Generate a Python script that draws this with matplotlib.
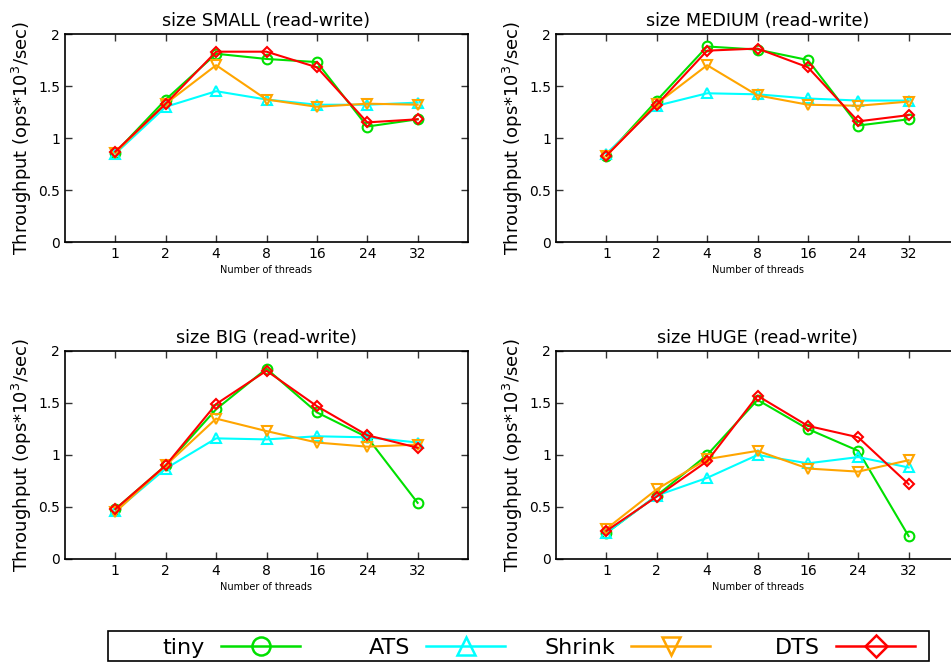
import matplotlib
matplotlib.use("Agg")
import matplotlib.pyplot as plt
from matplotlib.lines import Line2D
from matplotlib.patches import Rectangle

threads = ["1", "2", "4", "8", "16", "24", "32"]
series = ["tiny", "ATS", "Shrink", "DTS"]
colors = {"tiny": "#00e000", "ATS": "#00ffff", "Shrink": "#ffa500", "DTS": "#ff0000"}
markers = {"tiny": "o", "ATS": "^", "Shrink": "v", "DTS": "D"}

small = {
    "tiny":   [0.86, 1.37, 1.81, 1.76, 1.73, 1.11, 1.18],
    "ATS":    [0.85, 1.30, 1.45, 1.37, 1.32, 1.32, 1.34],
    "Shrink": [0.86, 1.33, 1.70, 1.37, 1.30, 1.33, 1.32],
    "DTS":    [0.87, 1.33, 1.83, 1.83, 1.68, 1.15, 1.18],
}
medium = {
    "tiny":   [0.83, 1.36, 1.88, 1.85, 1.75, 1.12, 1.18],
    "ATS":    [0.85, 1.31, 1.43, 1.42, 1.38, 1.36, 1.36],
    "Shrink": [0.83, 1.33, 1.70, 1.41, 1.32, 1.31, 1.35],
    "DTS":    [0.83, 1.32, 1.84, 1.86, 1.68, 1.16, 1.22],
}
big = {
    "tiny":   [0.48, 0.90, 1.44, 1.83, 1.41, 1.17, 0.54],
    "ATS":    [0.46, 0.87, 1.16, 1.15, 1.18, 1.17, 1.12],
    "Shrink": [0.45, 0.90, 1.35, 1.23, 1.12, 1.08, 1.10],
    "DTS":    [0.48, 0.90, 1.49, 1.81, 1.47, 1.19, 1.07],
}
huge = {
    "tiny":   [0.25, 0.61, 1.00, 1.53, 1.25, 1.04, 0.22],
    "ATS":    [0.25, 0.61, 0.78, 1.00, 0.92, 0.98, 0.88],
    "Shrink": [0.29, 0.67, 0.96, 1.04, 0.87, 0.84, 0.95],
    "DTS":    [0.27, 0.60, 0.94, 1.57, 1.28, 1.17, 0.72],
}
panels = [("size SMALL (read-write)", small), ("size MEDIUM (read-write)", medium),
          ("size BIG (read-write)", big), ("size HUGE (read-write)", huge)]

W, H = 951, 665
fig = plt.figure(figsize=(W / 100, H / 100), dpi=100)

# pixel boxes (left, top) of each plot area; right column runs off the page
boxes = [(65, 34), (556, 34), (65, 351), (556, 351)]
aw, ah = 403, 208

for (title, data), (px, py) in zip(panels, boxes):
    ax = fig.add_axes([px / W, 1 - (py + ah) / H, aw / W, ah / H])
    xs = range(len(threads))
    for s in series:
        ax.plot(xs, data[s], color=colors[s], marker=markers[s], lw=1.5,
                ms=7 if s != "DTS" else 5.5, mfc="none", mew=1.5)
    ax.set_xlim(-1, 7)
    ax.set_ylim(0, 2)
    ax.set_xticks(list(xs))
    ax.set_xticklabels(threads)
    ax.set_yticks([0, 0.5, 1, 1.5, 2])
    ax.set_yticklabels(["0", "0.5", "1", "1.5", "2"])
    ax.tick_params(direction="in", top=True, right=True, length=5, labelsize=10,
                   width=1, color="#333333")
    ax.set_title(title, fontsize=12.7, pad=6)
    ax.set_xlabel("Number of threads", fontsize=7, labelpad=3)
    ax.set_ylabel("Throughput (ops*10$^3$/sec)", fontsize=13, labelpad=3)
    for sp in ax.spines.values():
        sp.set_linewidth(1.2)

# gnuplot-style key: label right-aligned before each sample line
def fx(p):
    return p / W

def fy(p):
    return 1 - p / H

fig.patches.append(Rectangle((fx(108), fy(661)), fx(929) - fx(108), fy(631) - fy(661),
                             transform=fig.transFigure, fill=False, ec="black", lw=1.2))
ky = 646
for i, s in enumerate(series):
    x0 = 221 + 205 * i
    fig.lines.append(Line2D([fx(x0), fx(x0 + 79)], [fy(ky), fy(ky)], transform=fig.transFigure,
                            color=colors[s], lw=1.8))
    fig.lines.append(Line2D([fx(x0 + 39.5)], [fy(ky)], transform=fig.transFigure,
                            color=colors[s], marker=markers[s], ms=13 if s != "DTS" else 11,
                            mfc="none", mew=1.8, ls="none"))
    fig.text(fx(x0 - 16), fy(ky), s, ha="right", va="center_baseline", fontsize=16)

fig.savefig("out.png", dpi=100)
